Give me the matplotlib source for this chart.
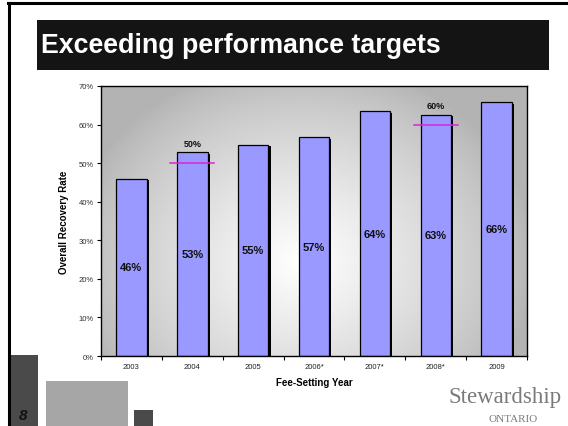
import matplotlib
matplotlib.use("Agg")
import matplotlib.pyplot as plt
import matplotlib.patheffects as pe
from matplotlib.patches import Rectangle
import numpy as np

# -----------------------------------------------------------
# data
# -----------------------------------------------------------
years = ['2003', '2004', '2005', '2006*', '2007*', '2008*', '2009']
recovery = [46.0, 52.8, 54.8, 56.7, 63.4, 62.6, 65.8]
bar_labels = ['46%', '53%', '55%', '57%', '64%', '63%', '66%']
target_years = ['2004', '2008*']
target_vals = [50, 60]
yticks = [0, 10, 20, 30, 40, 50, 60, 70]

plt.rcParams['font.family'] = ['Liberation Sans', 'DejaVu Sans']

fig = plt.figure(figsize=(5.68, 4.27), dpi=100)
fig.patch.set_facecolor('white')
W, H = 568.0, 427.0

def fx(px):
    return px / W

def fy(py):
    return 1 - py / H

# slide frame + title bar
fig.add_artist(plt.Line2D([fx(8), 1], [fy(4), fy(4)], color='black', lw=2.2))
fig.add_artist(plt.Line2D([fx(9), fx(9)], [fy(4), 0], color='black', lw=2.2))
fig.add_artist(Rectangle((fx(37), fy(71)), fx(549 - 37), (71 - 21) / H,
                         facecolor='#141414', edgecolor='none'))
fig.text(fx(41), fy(46), 'Exceeding performance targets', color='white',
         fontsize=19.3, fontweight='bold', va='center', ha='left')

# bottom-left decoration blocks
fig.add_artist(Rectangle((fx(10), 0), fx(28), (H - 356) / H,
                         facecolor='#4a4a4a', edgecolor='none'))
fig.add_artist(Rectangle((fx(46), 0), fx(82), (H - 382) / H,
                         facecolor='#a6a6a6', edgecolor='none'))
fig.add_artist(Rectangle((fx(134), 0), fx(19), (H - 411) / H,
                         facecolor='#4a4a4a', edgecolor='none'))
fig.text(fx(23), fy(416), '8', color='#111111', fontsize=11,
         fontweight='bold', fontstyle='italic', ha='center', va='center')

# logo text
fig.text(fx(562), fy(403), 'Stewardship', family='Liberation Serif',
         color='#7a7a7a', fontsize=16.5, ha='right', va='baseline')
fig.text(fx(538), fy(422), 'ONTARIO', family='Liberation Serif',
         color='#7a7a7a', fontsize=8, ha='right', va='baseline')

# -----------------------------------------------------------
# chart
# -----------------------------------------------------------
ax = fig.add_axes([fx(101), fy(357), fx(527 - 101), (357 - 87) / H])
x = np.arange(len(years))
ax.set_xlim(-0.5, len(years) - 0.5)
ax.set_ylim(0, 70)

# radial grey background
gx, gy = np.meshgrid(np.linspace(0, 1, 300), np.linspace(0, 1, 300))
r = np.sqrt(((gx - 0.47) / 0.55) ** 2 + ((gy - 0.35) / 0.75) ** 2)
shade = np.clip(1 - r, 0, 1)
bg = 0.70 + 0.30 * shade ** 0.8
ax.imshow(bg, cmap='gray', vmin=0, vmax=1, origin='lower',
          extent=[-0.5, len(years) - 0.5, 0, 70], aspect='auto', zorder=0)

bars = ax.bar(x, recovery, width=0.5, color='#9999ff', edgecolor='black',
              linewidth=0.9, zorder=2)
for b in bars:
    b.set_path_effects([pe.SimplePatchShadow(offset=(1.6, -1.2),
                                             shadow_rgbFace='black', alpha=1.0),
                        pe.Normal()])

for xi, v, lab in zip(x, recovery, bar_labels):
    ax.text(xi, v / 2, lab, ha='center', va='center', fontsize=8,
            fontweight='bold', color='#111111', zorder=4)

for ty, tv in zip(target_years, target_vals):
    i = years.index(ty)
    ax.plot([i - 0.36, i + 0.36], [tv, tv], color='#dd22dd', lw=1.1, zorder=3)
    ax.annotate(f'{tv}%', (i, recovery[i]), xytext=(0, 3),
                textcoords='offset points', ha='center', va='bottom',
                fontsize=6.5, fontweight='bold', color='#111111', zorder=4)

ax.set_yticks(yticks)
ax.set_yticklabels([f'{t}%' for t in yticks])
ax.set_xticks(x)
ax.set_xticklabels(years)
ax.set_xticks(np.arange(len(years) + 1) - 0.5, minor=True)
ax.tick_params(axis='x', which='major', length=0, labelsize=5.5,
               labelcolor='#222222', pad=5)
ax.tick_params(axis='x', which='minor', length=3, width=0.8, direction='out')
ax.tick_params(axis='y', length=3, width=0.8, labelsize=5.5,
               labelcolor='#333333', pad=2)
for s in ax.spines.values():
    s.set_linewidth(1.0)
    s.set_color('black')

ax.set_ylabel('Overall Recovery Rate', fontsize=7, fontweight='bold',
              labelpad=7)
ax.set_xlabel('Fee-Setting Year', fontsize=7, fontweight='bold', labelpad=5)

fig.savefig('out.png', dpi=100)
